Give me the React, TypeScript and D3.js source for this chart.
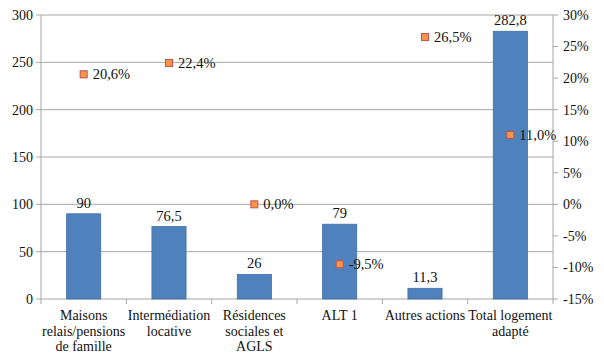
import React, { useEffect, useRef } from 'react';
import * as d3 from 'd3';

const categories = [
  'Maisons relais/pensions de famille',
  'Intermédiation locative',
  'Résidences sociales et AGLS',
  'ALT 1',
  'Autres actions',
  'Total logement adapté',
];
const categoryLines = [
  ['Maisons', 'relais/pensions', 'de famille'],
  ['Intermédiation', 'locative'],
  ['Résidences', 'sociales et', 'AGLS'],
  ['ALT 1'],
  ['Autres actions'],
  ['Total logement', 'adapté'],
];
const barValues = [90, 76.5, 26, 79, 11.3, 282.8];
const barLabels = ['90', '76,5', '26', '79', '11,3', '282,8'];
const pctValues = [20.6, 22.4, 0.0, -9.5, 26.5, 11.0];
const pctLabels = ['20,6%', '22,4%', '0,0%', '-9,5%', '26,5%', '11,0%'];
const leftTicks = [0, 50, 100, 150, 200, 250, 300];
const rightTicks = [-15, -10, -5, 0, 5, 10, 15, 20, 25, 30];

const FONT = 'Liberation Serif';

export default function App() {
  const ref = useRef<SVGSVGElement>(null);

  useEffect(() => {
    const width = 604;
    const height = 361;
    const margin = { top: 15, right: 51, bottom: 62, left: 41 };
    const innerW = width - margin.left - margin.right;
    const innerH = height - margin.top - margin.bottom;

    const svg = d3.select(ref.current);
    svg.selectAll('*').remove();
    const g = svg.append('g').attr('transform', `translate(${margin.left},${margin.top})`);

    const x = d3.scaleBand().domain(categories).range([0, innerW]).paddingInner(0.6).paddingOuter(0.3);
    const band = d3.scaleBand().domain(categories).range([0, innerW]);
    const y = d3.scaleLinear().domain([0, 300]).range([innerH, 0]);
    const y2 = d3.scaleLinear().domain([-15, 30]).range([innerH, 0]);

    const txt = (sel: any, size = 14.5) =>
      sel.attr('font-family', FONT).attr('font-size', size).attr('fill', '#111');

    // gridlines
    g.selectAll('line.grid')
      .data(leftTicks.filter(t => t > 0))
      .enter()
      .append('line')
      .attr('x1', 0)
      .attr('x2', innerW)
      .attr('y1', d => y(d))
      .attr('y2', d => y(d))
      .attr('stroke', '#a6a6a6')
      .attr('stroke-width', 1);

    // left axis
    g.append('line').attr('x1', 0).attr('x2', 0).attr('y1', 0).attr('y2', innerH).attr('stroke', '#a6a6a6');
    g.selectAll('line.ltick')
      .data(leftTicks)
      .enter()
      .append('line')
      .attr('x1', -5)
      .attr('x2', 0)
      .attr('y1', d => y(d))
      .attr('y2', d => y(d))
      .attr('stroke', '#a6a6a6');
    g.selectAll('text.ltick')
      .data(leftTicks)
      .enter()
      .append('text')
      .attr('x', -8)
      .attr('y', d => y(d))
      .attr('dy', '0.35em')
      .attr('text-anchor', 'end')
      .call(txt, 14)
      .text(d => d);

    // right axis
    g.append('line').attr('x1', innerW).attr('x2', innerW).attr('y1', 0).attr('y2', innerH).attr('stroke', '#a6a6a6');
    g.selectAll('line.rtick')
      .data(rightTicks)
      .enter()
      .append('line')
      .attr('x1', innerW)
      .attr('x2', innerW + 5)
      .attr('y1', d => y2(d))
      .attr('y2', d => y2(d))
      .attr('stroke', '#a6a6a6');
    g.selectAll('text.rtick')
      .data(rightTicks)
      .enter()
      .append('text')
      .attr('x', innerW + 10)
      .attr('y', d => y2(d))
      .attr('dy', '0.35em')
      .call(txt, 14)
      .text(d => `${d}%`);

    // bottom axis
    g.append('line').attr('x1', 0).attr('x2', innerW).attr('y1', innerH).attr('y2', innerH).attr('stroke', '#a6a6a6');
    const seps = categories.map(c => band(c) as number).concat([innerW]);
    g.selectAll('line.btick')
      .data(seps)
      .enter()
      .append('line')
      .attr('x1', d => d)
      .attr('x2', d => d)
      .attr('y1', innerH)
      .attr('y2', innerH + 5)
      .attr('stroke', '#a6a6a6');

    // category labels
    categories.forEach((c, i) => {
      const cx = (band(c) as number) + band.bandwidth() / 2;
      const t = g.append('text')
        .attr('x', cx)
        .attr('y', innerH + 21)
        .attr('text-anchor', 'middle')
        .call(txt, 14);
      categoryLines[i].forEach((line, j) => {
        t.append('tspan').attr('x', cx).attr('dy', j === 0 ? 0 : 15.5).text(line);
      });
    });

    // bars
    g.selectAll('rect.bar')
      .data(barValues)
      .enter()
      .append('rect')
      .attr('x', (d, i) => x(categories[i]) as number)
      .attr('y', d => y(d))
      .attr('width', x.bandwidth())
      .attr('height', d => innerH - y(d))
      .attr('fill', '#4f81bd')
      .attr('stroke', '#3f6fa8')
      .attr('stroke-width', 0.8);

    g.selectAll('text.barlabel')
      .data(barValues)
      .enter()
      .append('text')
      .attr('x', (d, i) => (x(categories[i]) as number) + x.bandwidth() / 2)
      .attr('y', d => y(d) - 6)
      .attr('text-anchor', 'middle')
      .call(txt)
      .text((d, i) => barLabels[i]);

    // markers
    g.selectAll('rect.marker')
      .data(pctValues)
      .enter()
      .append('rect')
      .attr('x', (d, i) => (band(categories[i]) as number) + band.bandwidth() / 2 - 3.5)
      .attr('y', d => y2(d) - 3.5)
      .attr('width', 7)
      .attr('height', 7)
      .attr('fill', '#f79646')
      .attr('stroke', '#c0504d')
      .attr('stroke-width', 1);

    g.selectAll('text.pct')
      .data(pctValues)
      .enter()
      .append('text')
      .attr('x', (d, i) => (band(categories[i]) as number) + band.bandwidth() / 2 + 9)
      .attr('y', d => y2(d))
      .attr('dy', '0.35em')
      .call(txt)
      .text((d, i) => pctLabels[i]);
  }, []);

  return (
    <svg
      ref={ref}
      width={604}
      height={361}
      style={{ position: 'absolute', left: 0, top: 0, background: '#fff' }}
    />
  );
}
